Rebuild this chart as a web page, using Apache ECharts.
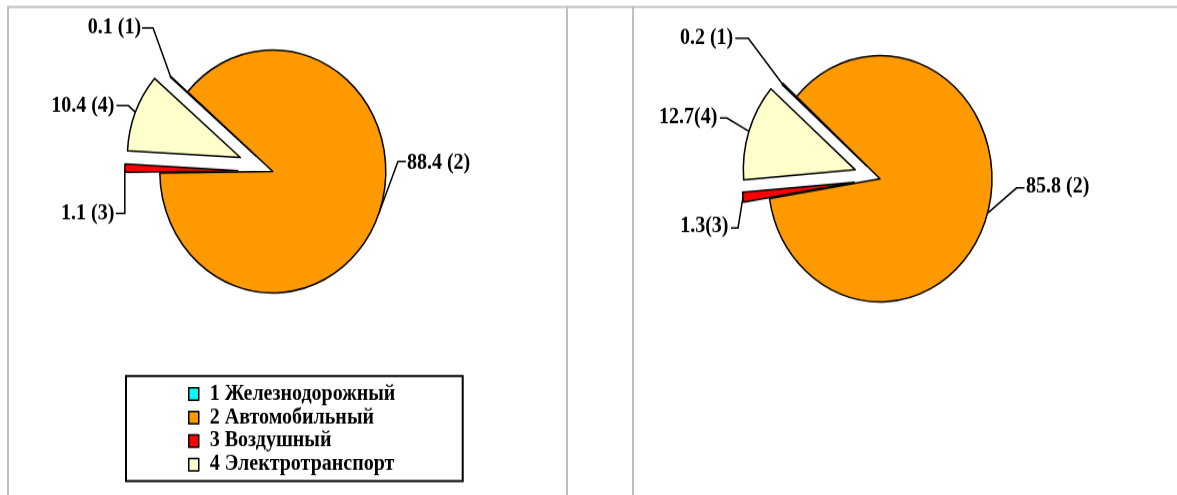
<!DOCTYPE html>
<html><head><meta charset="utf-8">
<script src="https://cdn.jsdelivr.net/npm/echarts@6/dist/echarts.min.js"></script>
<style>
html,body{margin:0;padding:0;background:#fff;width:1177px;height:495px;overflow:hidden}
#left,#right{position:absolute;top:0;transform-origin:0 0}
#left{left:0;width:600px;height:460px;transform:scaleY(1.075)}
#right{left:600px;width:577px;height:450px;transform:scaleY(1.1)}
</style></head><body>
<div id="left"></div><div id="right"></div>
<script>
// ---- data ----
const categories = ['1 Железнодорожный', '2 Автомобильный', '3 Воздушный', '4 Электротранспорт'];
const valuesLeft = [0.1, 88.4, 1.1, 10.4];
const valuesRight = [0.2, 85.8, 1.3, 12.7];
const labelsLeft = ['0.1 (1)', '88.4 (2)', '1.1 (3)', '10.4 (4)'];
const labelsRight = ['0.2 (1)', '85.8 (2)', '1.3(3)', '12.7(4)'];
const colors = ['#00FFFF', '#FF9900', '#FF0000', '#FFFFCC'];

const FONT = "'Liberation Serif', 'Times New Roman', serif";
const sL = 1.075, sR = 1.1;

function pieSeries(values, labels, cfg) {
  const total = values.reduce((a, b) => a + b, 0);
  let acc = 0;
  return values.map((v, i) => {
    const start = cfg.startAngle - acc / total * 360;
    const mid = (start - v / total * 180) * Math.PI / 180;
    acc += v;
    const off = cfg.offsets[i];
    const c = [cfg.center[0] + off * Math.cos(mid), cfg.center[1] - off * Math.sin(mid)];
    const anchor = [c[0] + cfg.radius * Math.cos(mid), c[1] - cfg.radius * Math.sin(mid)];
    return {
      type: 'pie', silent: true, animation: false,
      center: c,
      radius: cfg.radius, startAngle: cfg.startAngle, clockwise: true,
      avoidLabelOverlap: false, legendHoverLink: false, selectedMode: false,
      emphasis: { disabled: true },
      data: values.map((w, j) => ({
        name: categories[j], value: w,
        itemStyle: j === i ? { color: colors[j], borderColor: '#000', borderWidth: 1.5 }
                           : { color: 'rgba(0,0,0,0)', borderWidth: 0 },
        label: { show: j === i },
        labelLine: { show: j === i }
      })),
      label: {
        show: true, position: 'outside',
        formatter: p => labels[p.dataIndex],
        fontFamily: FONT, fontWeight: 'bold', fontSize: 20, color: '#000'
      },
      labelLine: { show: true, length: 10, length2: 10, lineStyle: { color: '#000', width: 1.5 } },
      labelLayout: p => {
        const sp = cfg.leaders[p.dataIndex];
        const a = (p.labelLinePoints && p.labelLinePoints[0]) ? p.labelLinePoints[0] : anchor;
        const b = [a[0] + sp.bend[0], a[1] + sp.bend[1]];
        const e = [b[0] + sp.len, b[1]];
        return {
          x: e[0] + sp.gap, y: e[1] + sp.dy,
          align: sp.len < 0 ? 'right' : 'left', verticalAlign: 'middle',
          labelLinePoints: [[a[0], a[1]], b, e]
        };
      }
    };
  });
}

const leftCfg = {
  center: [272.8, 159.5], radius: 113, startAngle: 139.4, offsets: [22, 0, 35, 35],
  leaders: [
    { bend: [-17.5, -45.3], len: -11, gap: -1, dy: 0 },
    { bend: [19, -48], len: 8, gap: 1, dy: 2 },
    { bend: [0, 42], len: -9, gap: -1.5, dy: 0 },
    { bend: [-7, -6], len: -12, gap: -2, dy: 0 }
  ]
};
const rightCfg = {
  center: [280, 162.5], radius: 112, startAngle: 138.9, offsets: [18, 0, 26, 26],
  leaders: [
    { bend: [-34.3, -41.6], len: -13, gap: -2, dy: 0 },
    { bend: [29, -23], len: 8, gap: 1.5, dy: -1 },
    { bend: [-5, 28], len: -7, gap: -2.5, dy: -1 },
    { bend: [-22, -12], len: -7, gap: -2.5, dy: 0 }
  ]
};

const grey = { fill: '#bfbfbf' };
const left = echarts.init(document.getElementById('left'), null, { renderer: 'canvas' });
left.setOption({
  animation: false,
  backgroundColor: '#fff',
  graphic: [
    { type: 'rect', silent: true, shape: { x: 7, y: 6 / sL, width: 593, height: 2 / sL }, style: grey },
    { type: 'rect', silent: true, shape: { x: 7, y: 6 / sL, width: 2, height: 470 }, style: grey },
    { type: 'rect', silent: true, shape: { x: 566, y: 6 / sL, width: 2, height: 470 }, style: grey },
    { type: 'rect', silent: true, shape: { x: 126, y: 376 / sL, width: 336.7, height: 105 / sL },
      style: { fill: 'none', stroke: '#000', lineWidth: 2 } }
  ],
  legend: {
    orient: 'vertical', left: 188, top: 356.5, padding: 0,
    itemWidth: 10, itemHeight: 11.5, itemGap: 1.9, icon: 'rect', selectedMode: false,
    data: categories.map((n, i) => ({ name: n, itemStyle: { color: colors[i] } })),
    itemStyle: { borderColor: '#000', borderWidth: 1.5 },
    textStyle: { fontFamily: FONT, fontWeight: 'bold', fontSize: 20, color: '#000', lineHeight: 20, padding: [0, 0, 0, 6] }
  },
  series: pieSeries(valuesLeft, labelsLeft, leftCfg)
});

const right = echarts.init(document.getElementById('right'), null, { renderer: 'canvas' });
right.setOption({
  animation: false,
  backgroundColor: '#fff',
  graphic: [
    { type: 'rect', silent: true, shape: { x: 0, y: 6 / sR, width: 577, height: 2 / sR }, style: grey },
    { type: 'rect', silent: true, shape: { x: 32, y: 6 / sR, width: 2, height: 460 }, style: grey }
  ],
  series: pieSeries(valuesRight, labelsRight, rightCfg)
});
</script>
</body></html>
